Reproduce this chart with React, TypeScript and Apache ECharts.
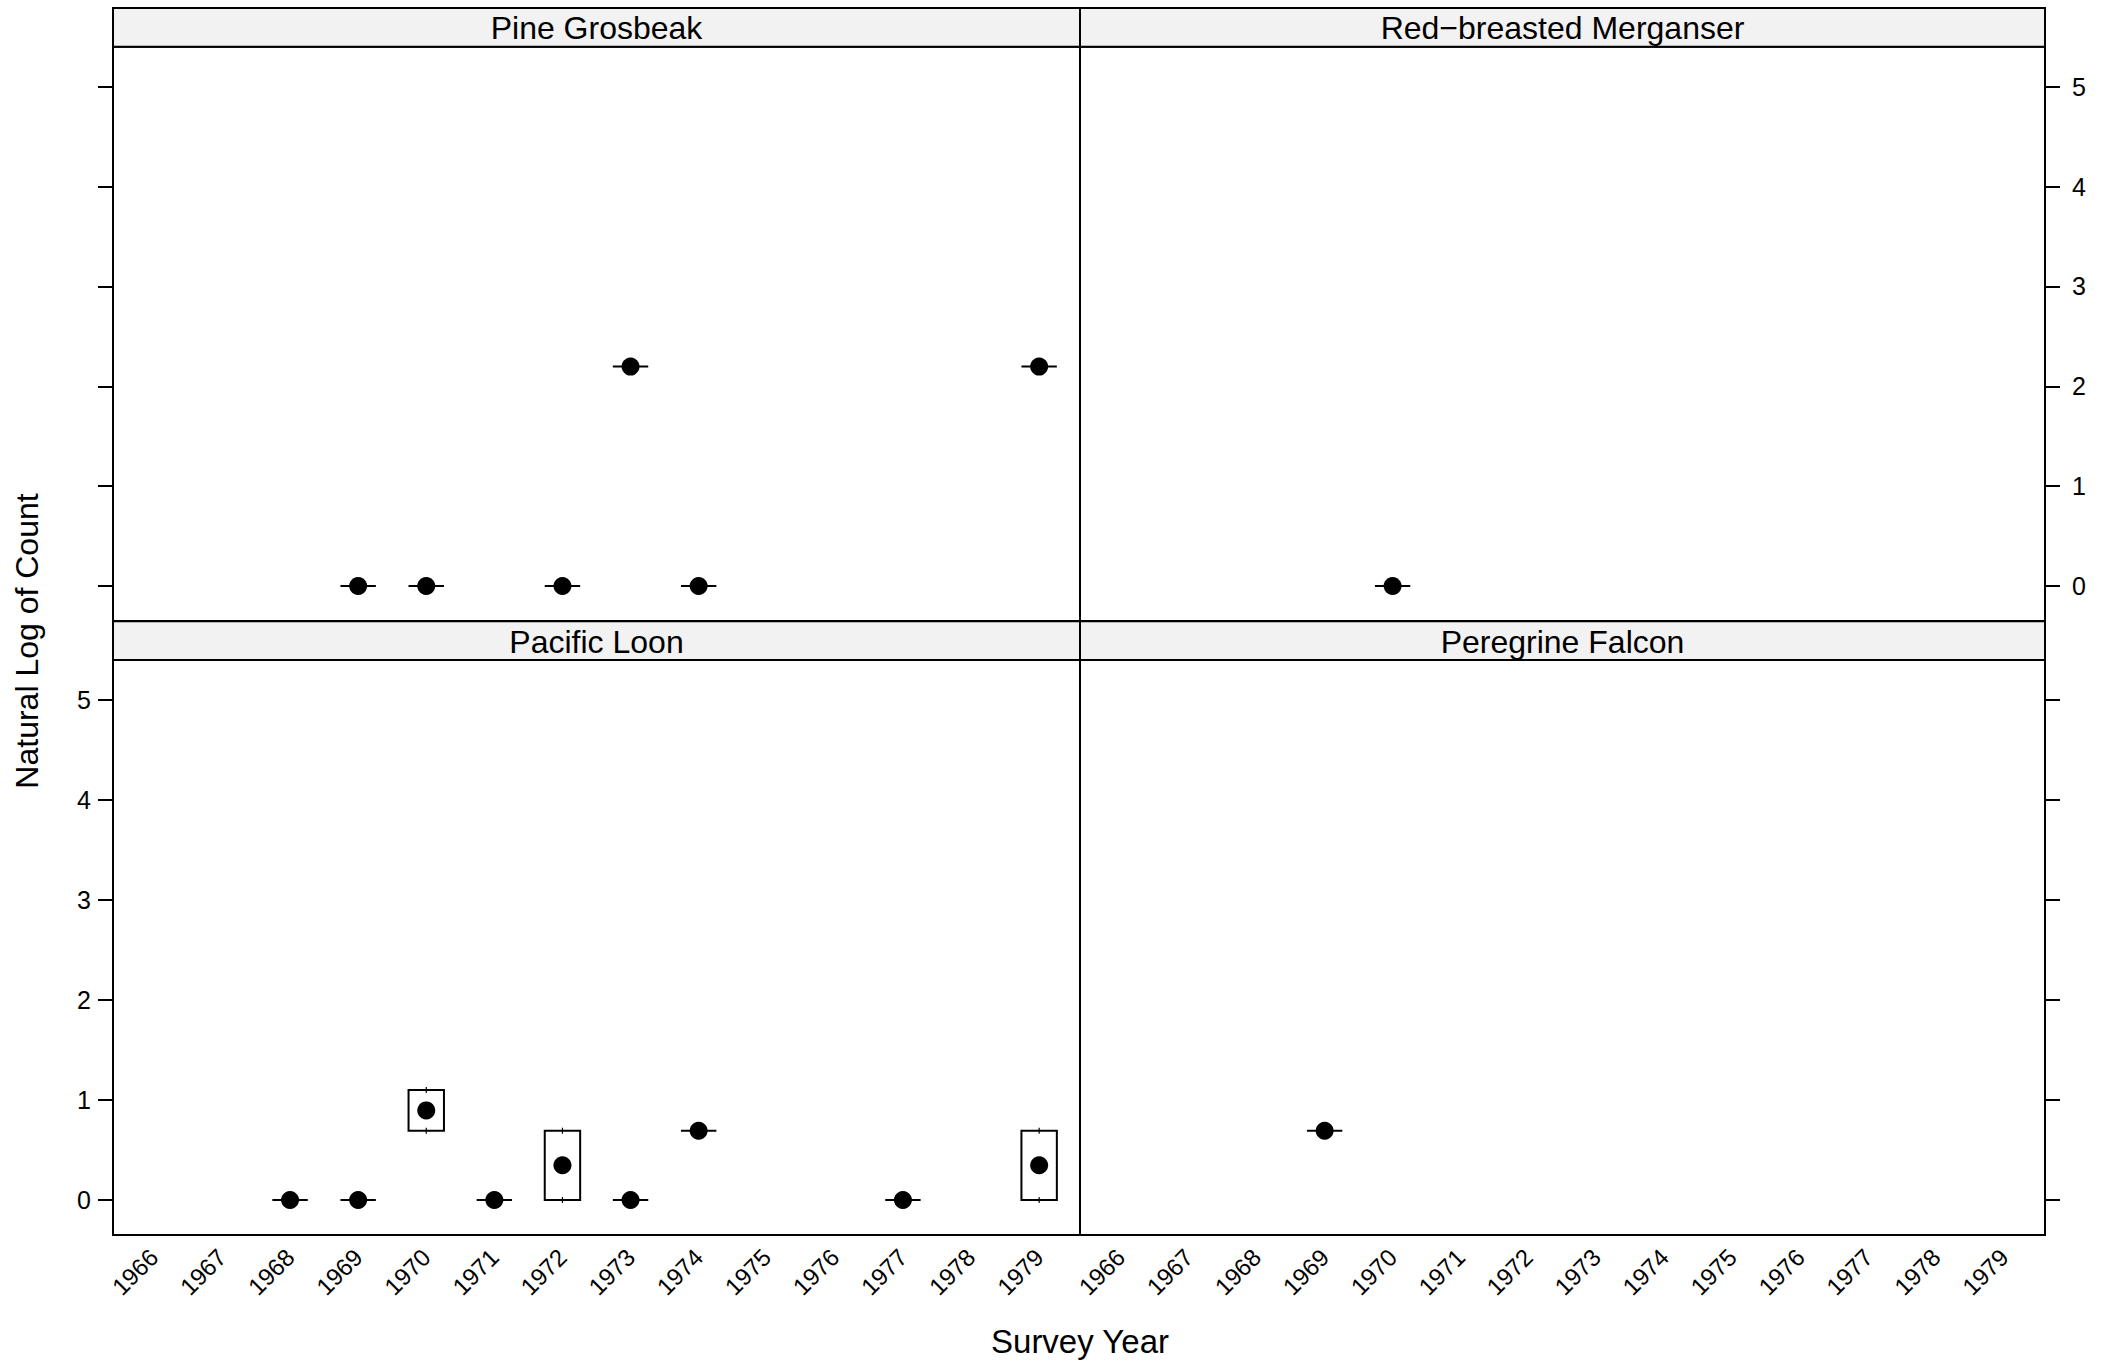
import React, { useEffect, useRef } from "react";
import * as echarts from "echarts";

// ---- data ----
const years = ["1966","1967","1968","1969","1970","1971","1972","1973","1974","1975","1976","1977","1978","1979"];
const yTicks = [0, 1, 2, 3, 4, 5];
// [year, lower hinge, median, upper hinge]
const pineGrosbeak: [string, number, number, number][] = [
  ["1969", 0, 0, 0],
  ["1970", 0, 0, 0],
  ["1972", 0, 0, 0],
  ["1973", 2.197, 2.197, 2.197],
  ["1974", 0, 0, 0],
  ["1979", 2.197, 2.197, 2.197],
];
const redBreastedMerganser: [string, number, number, number][] = [
  ["1970", 0, 0, 0],
];
const pacificLoon: [string, number, number, number][] = [
  ["1968", 0, 0, 0],
  ["1969", 0, 0, 0],
  ["1970", 0.693, 0.896, 1.099],
  ["1971", 0, 0, 0],
  ["1972", 0, 0.347, 0.693],
  ["1973", 0, 0, 0],
  ["1974", 0.693, 0.693, 0.693],
  ["1977", 0, 0, 0],
  ["1979", 0, 0.347, 0.693],
];
const peregrineFalcon: [string, number, number, number][] = [
  ["1969", 0.693, 0.693, 0.693],
];

const FONT = "'Liberation Sans', Arial, Helvetica, sans-serif";

export default function App() {
  const ref = useRef<HTMLDivElement>(null);
  useEffect(() => {
    if (!ref.current) return;
    const chart = echarts.init(ref.current, null, { renderer: "svg" });

    const L = 113, M = 1080, R = 2045;
    const T1 = 46.7, B1 = 621, T2 = 660, B2 = 1235;
    const stripH = 38.7;

    const panels = [
      { name: "Pine Grosbeak", data: pineGrosbeak, left: L, top: T1, width: M - L, height: B1 - T1, yPos: "left", yLabels: false, xLabels: false },
      { name: "Red\u2212breasted Merganser", data: redBreastedMerganser, left: M, top: T1, width: R - M, height: B1 - T1, yPos: "right", yLabels: true, xLabels: false },
      { name: "Pacific Loon", data: pacificLoon, left: L, top: T2, width: M - L, height: B2 - T2, yPos: "left", yLabels: true, xLabels: true },
      { name: "Peregrine Falcon", data: peregrineFalcon, left: M, top: T2, width: R - M, height: B2 - T2, yPos: "right", yLabels: false, xLabels: true },
    ];

    const graphics: any[] = [];
    panels.forEach((p) => {
      graphics.push({
        type: "rect",
        shape: { x: p.left, y: p.top - stripH, width: p.width, height: stripH },
        style: { fill: "#f2f2f2", stroke: "#000", lineWidth: 2 },
        z: 10,
      });
      graphics.push({
        type: "text",
        x: p.left + p.width / 2,
        y: p.top - stripH / 2 + 1,
        style: { text: p.name, fontSize: 32, fontFamily: FONT, fill: "#000", align: "center", verticalAlign: "middle" },
        z: 11,
      });
    });
    graphics.push({
      type: "text",
      x: M,
      y: 1341,
      style: { text: "Survey Year", fontSize: 33, fontFamily: FONT, fill: "#000", align: "center", verticalAlign: "middle" },
    });
    graphics.push({
      type: "text",
      x: 27,
      y: 641,
      rotation: Math.PI / 2,
      style: { text: "Natural Log of Count", fontSize: 32, fontFamily: FONT, fill: "#000", align: "center", verticalAlign: "middle" },
    });

    const option: any = {
      animation: false,
      backgroundColor: "#fff",
      grid: panels.map((p) => ({
        left: p.left, top: p.top, width: p.width, height: p.height,
        show: true, borderColor: "#000", borderWidth: 2, backgroundColor: "transparent",
      })),
      xAxis: panels.map((p, i) => ({
        type: "value", gridIndex: i, min: 0.4, max: 14.6,
        axisLine: { show: false }, axisTick: { show: false }, splitLine: { show: false },
        axisLabel: {
          show: p.xLabels,
          customValues: years.map((_, k) => k + 1),
          formatter: (v: number) => years[Math.round(v) - 1] ?? "",
          rotate: 45, margin: 18, fontSize: 24, color: "#000", fontFamily: FONT,
        },
      })),
      yAxis: panels.map((p, i) => ({
        type: "value", gridIndex: i, position: p.yPos, min: -0.35, max: 5.4,
        axisLine: { show: false }, splitLine: { show: false },
        axisTick: { show: true, length: 15, lineStyle: { color: "#000", width: 2 }, customValues: yTicks },
        axisLabel: { show: p.yLabels, customValues: yTicks, margin: p.yPos === "left" ? 22 : 27, fontSize: 25, color: "#000", fontFamily: FONT },
      })),
      graphic: graphics,
      series: panels.map((p, i) => ({
        type: "custom",
        xAxisIndex: i,
        yAxisIndex: i,
        clip: false,
        data: p.data.map((d) => [years.indexOf(d[0]) + 1, d[1], d[2], d[3]]),
        renderItem: (params: any, api: any) => {
          const x = api.value(0);
          const lo = api.value(1), med = api.value(2), hi = api.value(3);
          const pLo = api.coord([x, lo]);
          const pHi = api.coord([x, hi]);
          const pMed = api.coord([x, med]);
          const w = api.size([1, 0])[0] * 0.52;
          const cx = pLo[0];
          return {
            type: "group",
            children: [
              {
                type: "polygon",
                shape: { points: [[cx - w / 2, pHi[1]], [cx + w / 2, pHi[1]], [cx + w / 2, pLo[1]], [cx - w / 2, pLo[1]]] },
                style: { fill: "none", stroke: "#000", lineWidth: 2 },
              },
              { type: "line", shape: { x1: cx, y1: pHi[1] - 3, x2: cx, y2: pHi[1] + 3 }, style: { stroke: "#000", lineWidth: 1.2 } },
              { type: "line", shape: { x1: cx, y1: pLo[1] - 3, x2: cx, y2: pLo[1] + 3 }, style: { stroke: "#000", lineWidth: 1.2 } },
              { type: "circle", shape: { cx: pMed[0], cy: pMed[1], r: 9 }, style: { fill: "#000" } },
            ],
          };
        },
      })),
    };
    chart.setOption(option);
    return () => chart.dispose();
  }, []);
  return <div ref={ref} style={{ position: "fixed", left: 0, top: 0, width: 2116, height: 1362 }} />;
}
